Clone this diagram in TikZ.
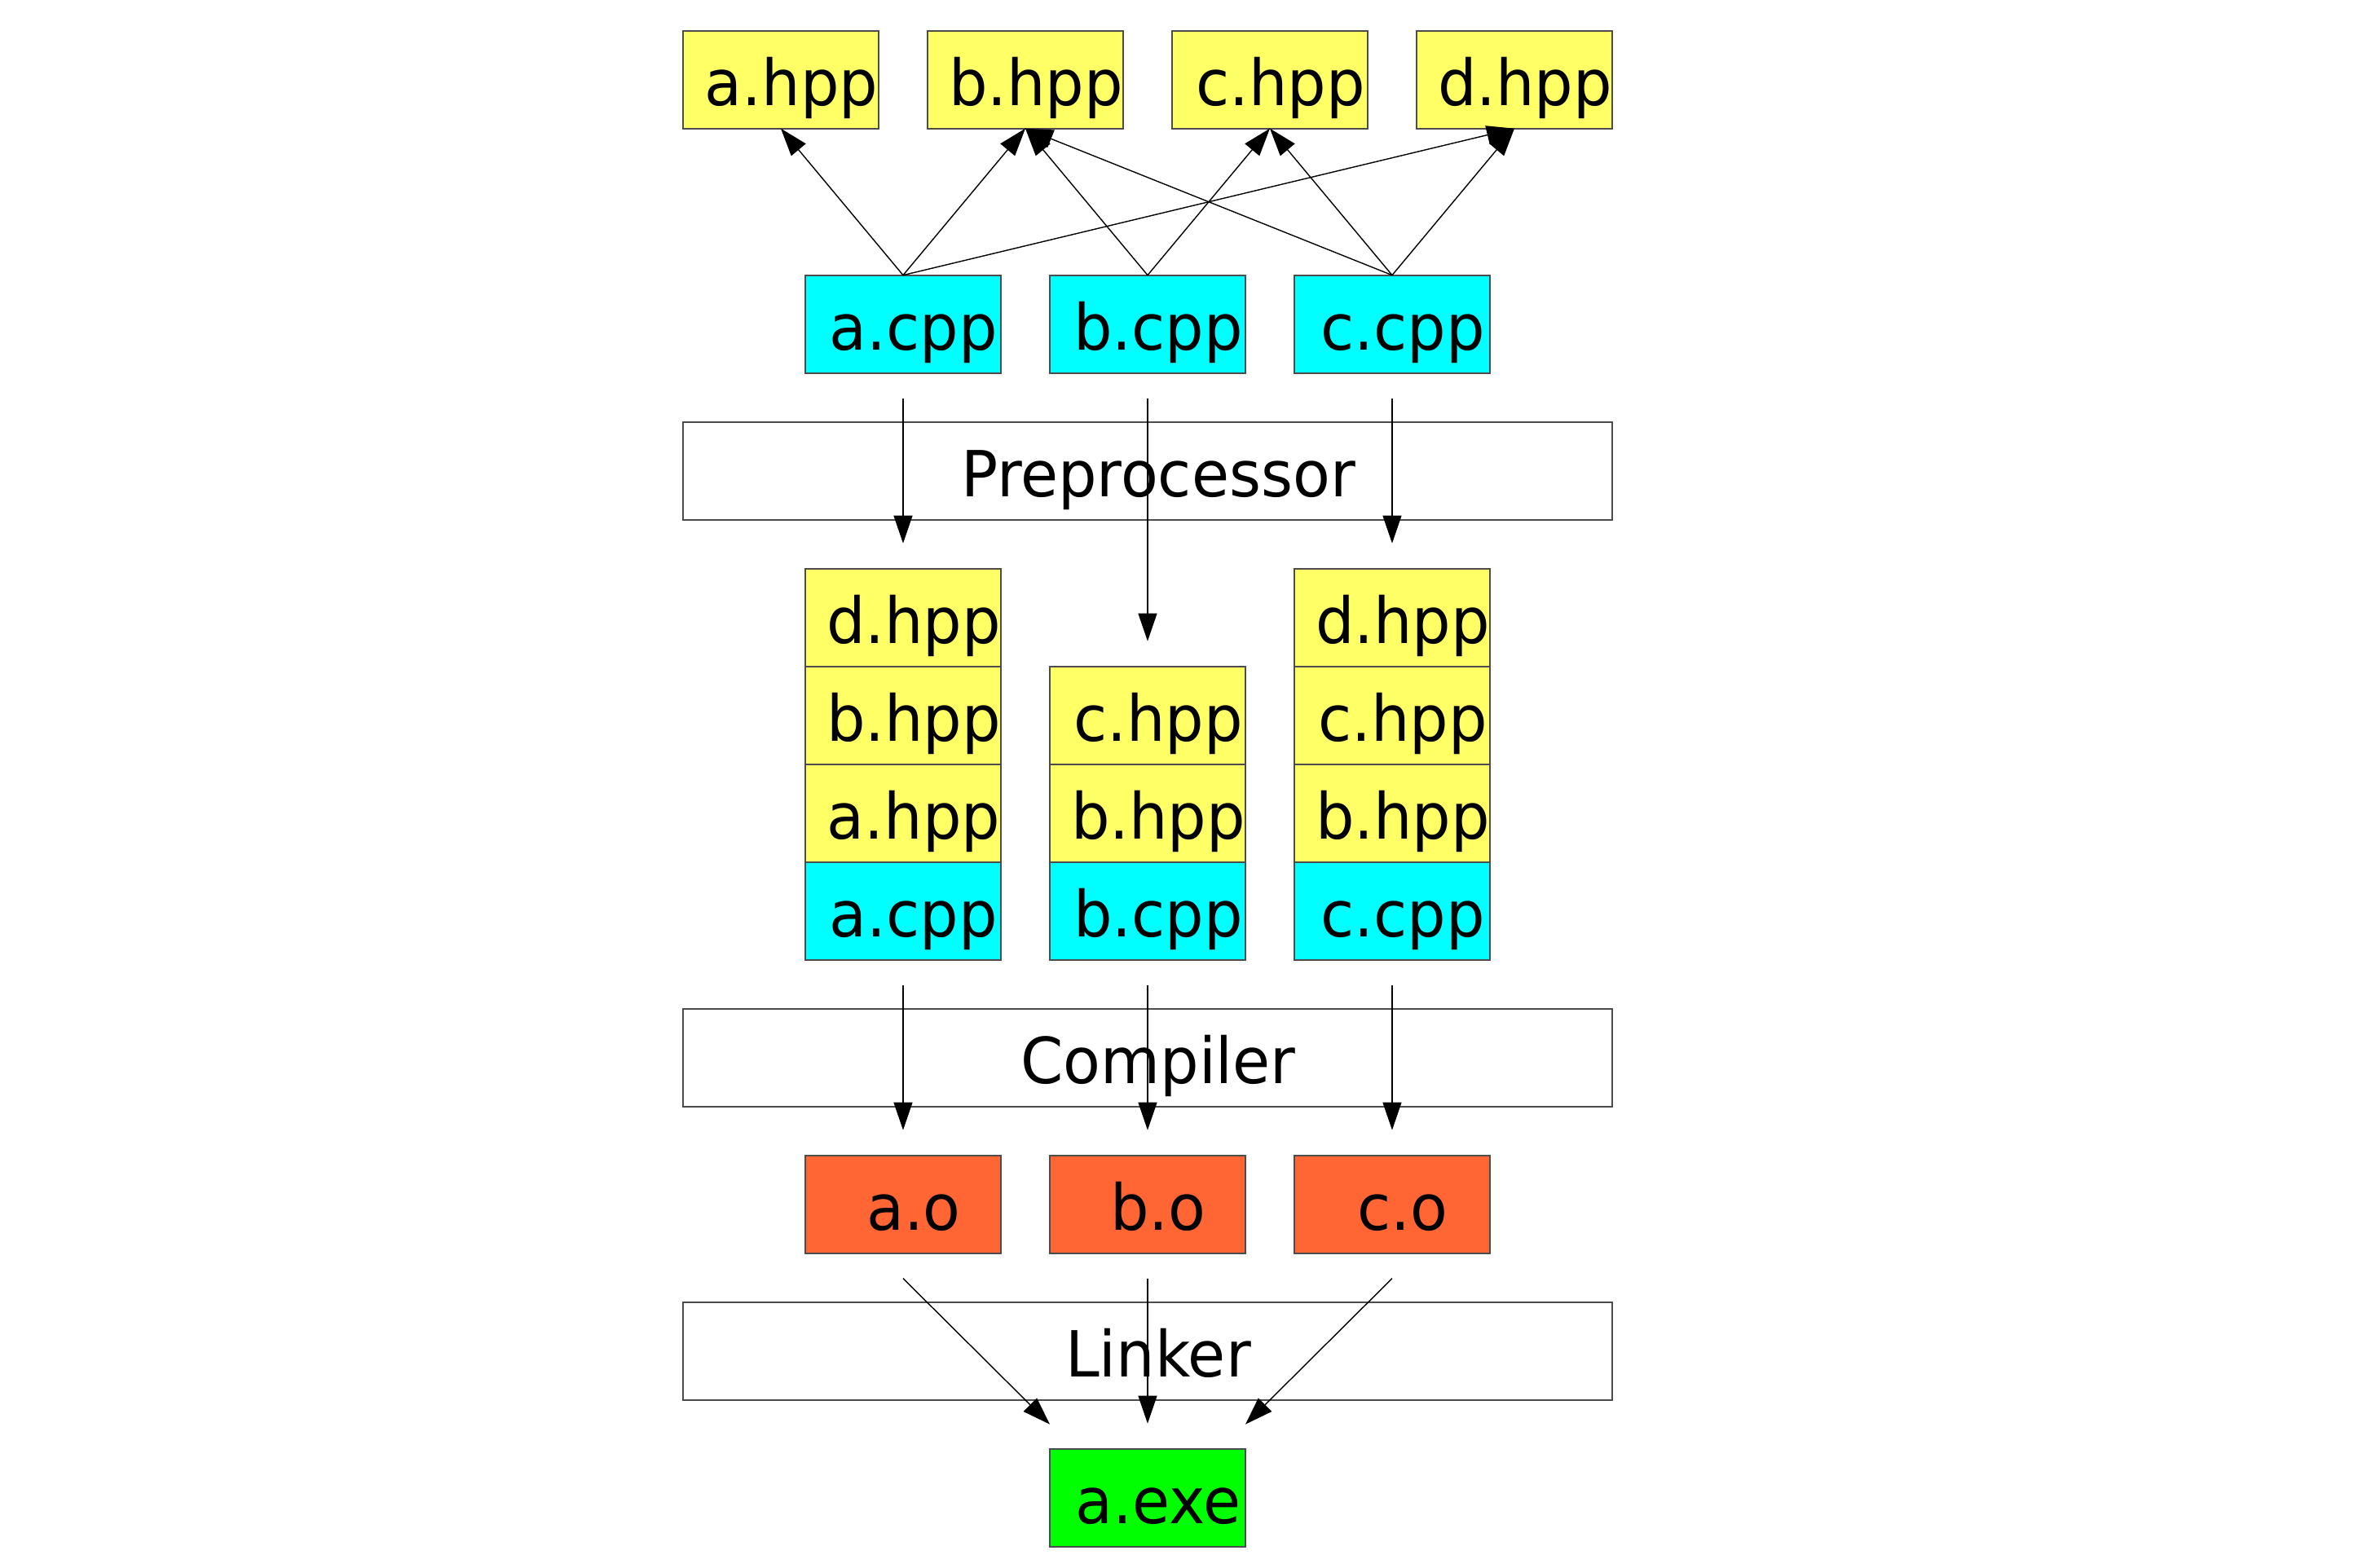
\documentclass[tikz,border=0pt]{standalone}
\usepackage{fontspec}
\setmainfont{DejaVu Sans}[FakeStretch=0.96]
\usepackage{xcolor}
\usepackage{tikz}
\usetikzlibrary{positioning}
\usetikzlibrary{arrows.meta}
\definecolor{hppyellow}{RGB}{255,255,102}
\definecolor{cppcyan}{RGB}{0,255,255}
\definecolor{objorange}{RGB}{255,102,51}
\definecolor{exegreen}{RGB}{0,255,0}

\begin{document}
\begin{tikzpicture}[node distance=0.3cm and 0.3cm,
                    file/.style={draw=black!70,line width=0.25pt,minimum width=1.2cm,
                                 minimum height=0.6cm,inner sep=0pt,outer sep=0pt,
                                 text height=0.317cm,text depth=0pt,
                                 font=\fontsize{11.1}{13}\selectfont,
                                 execute at begin node=\hspace*{0.13cm}},
                    hpp/.style={file,fill=hppyellow},
                    cpp/.style={file,fill=cppcyan},
                    obj/.style={file,fill=objorange},
                    bin/.style={file,fill=exegreen},
                    tool/.style={file,fill=white,minimum width=5.7cm},
                    dep/.style={-{Triangle[length=0.17cm,width=0.115cm]},line width=0.2pt},
                    flow/.style={dep,shorten <=0.155cm,shorten >=0.155cm}]
\useasboundingbox (-5.540,1.9885) rectangle (9.06,-7.6315);
% sources and headers
\node[cpp] (acpp) at (0,0) {a.cpp};
\node[cpp,right = of acpp] (bcpp) {b.cpp};
\node[cpp,right = of bcpp] (ccpp) {c.cpp};
\node[hpp,above right = 0.9cm and 0.15cm of acpp.north] (bhpp) {b.hpp};
\node[hpp,left = of bhpp] (ahpp) {a.hpp};
\node[hpp,right = of bhpp] (chpp) {c.hpp};
\node[hpp,right = of chpp] (dhpp) {d.hpp};
\node[tool,below = of bcpp] (pre) {Preprocessor};
% preprocessed units
\node[hpp,below = 1.2cm of acpp] (sa_d) {d.hpp};
\node[hpp,below = 0pt of sa_d] (sa_b) {b.hpp};
\node[hpp,below = 0pt of sa_b] (sa_a) {a.hpp};
\node[cpp,below = 0pt of sa_a] (sa_cpp) {a.cpp};
\node[hpp,below = 1.8cm of bcpp] (sb_c) {c.hpp};
\node[hpp,below = 0pt of sb_c] (sb_b) {b.hpp};
\node[cpp,below = 0pt of sb_b] (sb_cpp) {b.cpp};
\node[hpp,below = 1.2cm of ccpp] (sc_d) {d.hpp};
\node[hpp,below = 0pt of sc_d] (sc_c) {c.hpp};
\node[hpp,below = 0pt of sc_c] (sc_b) {b.hpp};
\node[cpp,below = 0pt of sc_b] (sc_cpp) {c.cpp};
\node[tool,below = of sb_cpp] (cc) {Compiler};
% objects and executable
\node[obj,below = 1.2cm of sa_cpp] (ao) {a.o};
\node[obj,below = 1.2cm of sb_cpp] (bo) {b.o};
\node[obj,below = 1.2cm of sc_cpp] (co) {c.o};
\node[tool,below = of bo] (ld) {Linker};
\node[bin,below = of ld] (exe) {a.exe};
\path[dep] (acpp.north) edge (ahpp.south)
                        edge (bhpp.south)
                        edge (dhpp.south)
           (bcpp.north) edge (bhpp.south)
                        edge (chpp.south)
           (ccpp.north) edge (bhpp.south)
                        edge (chpp.south)
                        edge (dhpp.south);
\path[flow] (acpp) edge (sa_d)
            (bcpp) edge (sb_c)
            (ccpp) edge (sc_d)
            (sa_cpp) edge (ao)
            (sb_cpp) edge (bo)
            (sc_cpp) edge (co)
            (bo) edge (exe);
\path[dep] ([yshift=-0.155cm]ao.south) edge ([yshift=0.15cm]exe.north west)
           ([yshift=-0.155cm]co.south) edge ([yshift=0.15cm]exe.north east);
\end{tikzpicture}
\end{document}
